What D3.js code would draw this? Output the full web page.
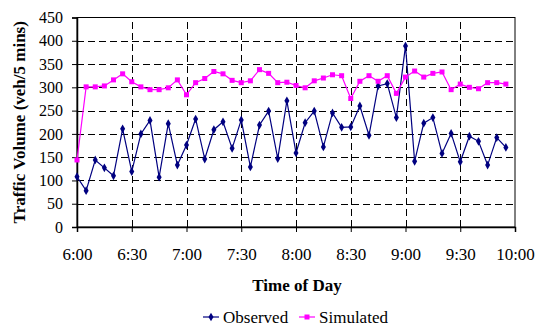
<!DOCTYPE html>
<html>
<head>
<meta charset="utf-8">
<script src="https://cdn.jsdelivr.net/npm/d3@7"></script>
<style>
  body { margin: 0; background: #fff; }
  svg { display: block; }
  svg text { font-family: "Liberation Serif", "Times New Roman", serif; }
</style>
</head>
<body>
<div id="chart"></div>
<script>
const times = [
  "6:00","6:05","6:10","6:15","6:20","6:25","6:30","6:35","6:40","6:45","6:50","6:55",
  "7:00","7:05","7:10","7:15","7:20","7:25","7:30","7:35","7:40","7:45","7:50","7:55",
  "8:00","8:05","8:10","8:15","8:20","8:25","8:30","8:35","8:40","8:45","8:50","8:55",
  "9:00","9:05","9:10","9:15","9:20","9:25","9:30","9:35","9:40","9:45","9:50","9:55"
];
const observed = [
  108, 78, 144, 127, 110, 211, 119, 200, 229, 107, 222, 133,
  176, 232, 146, 209, 226, 169, 230, 129, 219, 249, 147, 271,
  159, 224, 249, 172, 245, 214, 215, 260, 197, 303, 308, 235,
  389, 141, 223, 235, 158, 201, 140, 195, 184, 133, 192, 171
];
const simulated = [
  144, 301, 301, 303, 316, 329, 312, 301, 295, 295, 299, 316,
  284, 310, 319, 334, 329, 315, 310, 314, 338, 330, 310, 311,
  304, 299, 314, 320, 327, 325, 276, 313, 325, 313, 325, 287,
  322, 335, 322, 330, 333, 295, 307, 300, 297, 310, 310, 307
];
const yTicks = [0, 50, 100, 150, 200, 250, 300, 350, 400, 450];
const xTickLabels = ["6:00","6:30","7:00","7:30","8:00","8:30","9:00","9:30","10:00"];
const seriesNames = ["Observed", "Simulated"];
const seriesColors = ["#000080", "#ff00ff"];

const width = 547, height = 327;
const margin = { top: 17.5, right: 32, bottom: 100, left: 77 };
const parse = d3.timeParse("%H:%M");

const svg = d3.select("#chart").append("svg")
  .attr("width", width)
  .attr("height", height);

const x = d3.scaleTime()
  .domain([parse("6:00"), parse("10:00")])
  .range([margin.left, width - margin.right]);

const y = d3.scaleLinear()
  .domain([0, 450])
  .range([height - margin.bottom, margin.top]);

const xTicks = xTickLabels.map(parse);

// gridlines
svg.append("g")
  .attr("stroke", "#000")
  .attr("stroke-width", 1)
  .attr("stroke-dasharray", "7,4")
  .selectAll("line")
  .data(yTicks.slice(1, -1))
  .join("line")
  .attr("x1", x.range()[0])
  .attr("x2", x.range()[1])
  .attr("y1", d => Math.round(y(d)) + 0.5)
  .attr("y2", d => Math.round(y(d)) + 0.5);

svg.append("g")
  .attr("stroke", "#000")
  .attr("stroke-width", 1)
  .attr("stroke-dasharray", "7,4")
  .selectAll("line")
  .data(xTicks.slice(1, -1))
  .join("line")
  .attr("x1", d => Math.round(x(d)) + 0.5)
  .attr("x2", d => Math.round(x(d)) + 0.5)
  .attr("y1", y(0))
  .attr("y2", y(450));

// frame
svg.append("rect")
  .attr("x", x.range()[0])
  .attr("y", y(450))
  .attr("width", x.range()[1] - x.range()[0])
  .attr("height", y(0) - y(450))
  .attr("fill", "none")
  .attr("stroke", "#000")
  .attr("stroke-width", 1);

// axes
const yAxis = svg.append("g")
  .attr("transform", `translate(${x.range()[0]},0)`)
  .call(d3.axisLeft(y).tickValues(yTicks).tickSize(5).tickPadding(9))
  .attr("font-family", null)
  .attr("font-size", 16);
yAxis.select(".domain").attr("stroke-width", 1.5);
yAxis.selectAll("text").attr("fill", "#000");

const xAxis = svg.append("g")
  .attr("transform", `translate(0,${y(0)})`)
  .call(d3.axisBottom(x).tickValues(xTicks).tickSize(5).tickPadding(16)
    .tickFormat(d3.timeFormat("%-H:%M")))
  .attr("font-family", null)
  .attr("font-size", 17);
xAxis.select(".domain").attr("stroke-width", 1.5);
xAxis.selectAll("text").attr("fill", "#000");

// series
const series = [observed, simulated];
const line = d3.line()
  .x((d, i) => x(parse(times[i])))
  .y(d => y(d));

series.forEach((vals, s) => {
  svg.append("path")
    .datum(vals)
    .attr("fill", "none")
    .attr("stroke", seriesColors[s])
    .attr("stroke-width", 1.2)
    .attr("d", line);
});

svg.append("g")
  .selectAll("path")
  .data(observed)
  .join("path")
  .attr("transform", (d, i) => `translate(${x(parse(times[i]))},${y(d)})`)
  .attr("d", d3.symbol(d3.symbolDiamond, 22))
  .attr("fill", seriesColors[0]);

svg.append("g")
  .selectAll("rect")
  .data(simulated)
  .join("rect")
  .attr("x", (d, i) => x(parse(times[i])) - 2.5)
  .attr("y", d => y(d) - 2.5)
  .attr("width", 5)
  .attr("height", 5)
  .attr("fill", seriesColors[1]);

// axis titles
svg.append("text")
  .attr("transform", `translate(25,${(y(0) + y(450)) / 2}) rotate(-90)`)
  .attr("text-anchor", "middle")
  .attr("font-weight", "bold")
  .attr("font-size", 17)
  .text("Traffic Volume (veh/5 mins)");

svg.append("text")
  .attr("x", 297)
  .attr("y", 291)
  .attr("text-anchor", "middle")
  .attr("font-weight", "bold")
  .attr("font-size", 17)
  .text("Time of Day");

// legend
const legendX = [203, 299];
const legend = svg.append("g")
  .selectAll("g")
  .data(seriesNames)
  .join("g")
  .attr("transform", (d, i) => `translate(${legendX[i]},317)`);

legend.append("line")
  .attr("x1", 0).attr("x2", 16)
  .attr("stroke", (d, i) => seriesColors[i])
  .attr("stroke-width", 1.2);

legend.append("path")
  .attr("transform", "translate(8,0)")
  .attr("d", (d, i) => i === 0 ? d3.symbol(d3.symbolDiamond, 22)() : d3.symbol(d3.symbolSquare, 25)())
  .attr("fill", (d, i) => seriesColors[i]);

legend.append("text")
  .attr("x", 20)
  .attr("dy", "0.35em")
  .attr("font-size", 17)
  .text(d => d);
</script>
</body>
</html>
